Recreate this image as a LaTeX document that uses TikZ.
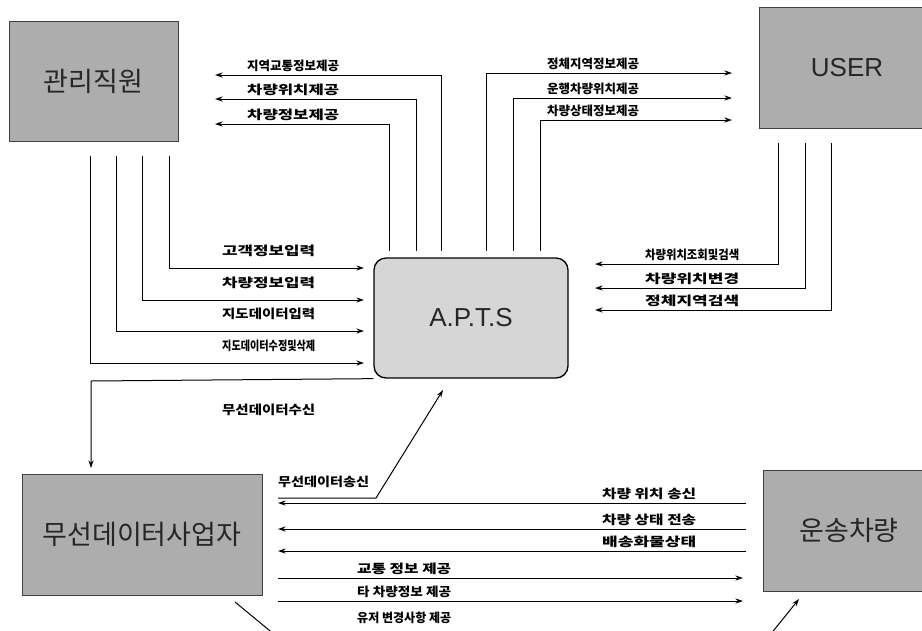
\documentclass[tikz,border=0pt]{standalone}
\usepackage{fontspec}
\usepackage{graphicx}
\usetikzlibrary{arrows.meta}
\newfontfamily\kr{Noto Sans CJK KR}
\newfontfamily\lat{Liberation Sans}
\newcommand\entfont{\kr\fontsize{27}{27}\selectfont}
\newcommand\sysfont{\lat\fontsize{26}{26}\selectfont}
\newcommand\flowtxt[2]{\resizebox{#1pt}{10.5pt}{\kr\bfseries #2}}
\begin{document}
\begin{tikzpicture}[
 x=1pt,y=-1pt,
 entity/.style={draw=black!75,fill=black!32,line width=.8pt,inner sep=0pt,text=black!85,font=\entfont},
 system/.style={draw,fill=black!16,rounded corners=12pt,line width=1.3pt,inner sep=0pt,text=black!85,font=\sysfont},
 flow/.style={line width=1pt},
 arr/.style={flow,-{Stealth[length=7.5pt,width=5pt]}},
 lab/.style={inner sep=0pt,anchor=south west}]
 \useasboundingbox (0,0) rectangle (922,630);
 \fill[white] (0,0) rectangle (922,630);
 % entities and the system
 \node[entity,minimum width=169pt,minimum height=120pt] (staff) at (93.5,81) {관리직원};
 \node[entity,minimum width=176pt,minimum height=121pt,font=\sysfont] (user) at (847,67.5) {USER};
 \node[system,minimum width=194pt,minimum height=120pt] (apts) at (471,318) {A.P.T.S};
 \node[entity,minimum width=240pt,minimum height=121pt] (wireless) at (142,534.5) {무선데이터사업자};
 \node[entity,minimum width=172pt,minimum height=121pt] (truck) at (849,530.5) {운송차량};
 % system to staff
 \foreach \i/\vx/\hy/\lab in {1/441/75/지역교통정보제공,2/416/99/차량위치제공,3/389/124/차량정보제공}{
  \coordinate (ta\i) at (\vx,251);
  \coordinate (tb\i) at (\vx,\hy);
  \coordinate (tc\i) at (215,\hy);
  \draw[arr] (ta\i)--(tb\i)--(tc\i);
  \node[lab] (tl\i) at (247,\hy-3) {\flowtxt{92}{\lab}};
 }
 % system to user
 \foreach \i/\vx/\hy/\lab in {1/486/73/정체지역정보제공,2/513/98/운행차량위치제공,3/540/120/차량상태정보제공}{
  \coordinate (ua\i) at (\vx,251);
  \coordinate (ub\i) at (\vx,\hy);
  \coordinate (uc\i) at (732,\hy);
  \draw[arr] (ua\i)--(ub\i)--(uc\i);
  \node[lab] (ul\i) at (547,\hy-3) {\flowtxt{92}{\lab}};
 }
 % staff to system
 \foreach \i/\vx/\hy/\lab in {1/169/268/고객정보입력,2/142/300/차량정보입력,3/116/331/지도데이터입력,4/90/363/지도데이터수정및삭제}{
  \coordinate (sa\i) at (\vx,156);
  \coordinate (sb\i) at (\vx,\hy);
  \coordinate (sc\i) at (364,\hy);
  \draw[arr] (sa\i)--(sb\i)--(sc\i);
  \node[lab] (sl\i) at (222,\hy-11) {\flowtxt{93}{\lab}};
 }
 % user to system
 \foreach \i/\vx/\hy/\lab in {1/778/264/차량위치조회및검색,2/805/288/차량위치변경,3/831/310/정체지역검색}{
  \coordinate (qa\i) at (\vx,143);
  \coordinate (qb\i) at (\vx,\hy);
  \coordinate (qc\i) at (595,\hy);
  \draw[arr] (qa\i)--(qb\i)--(qc\i);
  \node[lab] (ql\i) at (645,\hy-3) {\flowtxt{94}{\lab}};
 }
 % wireless link
 \coordinate (rb) at (91,381); \coordinate (rc) at (91,468);
 \draw[arr] (apts.south west)--(rb)--(rc);
 \node[lab] (rl) at (222,416) {\flowtxt{93}{무선데이터수신}};
 \coordinate (wa) at (278,498); \coordinate (wb) at (376,498); \coordinate (wc) at (443,390);
 \draw[arr] (wa)--(wb)--(wc);
 \node[lab] (wl) at (278,488) {\flowtxt{91}{무선데이터송신}};
 % vehicle to wireless
 \foreach \i/\hy/\lab in {1/503/차량 위치 송신,2/529/차량 상태 전송,3/551/배송화물상태}{
  \coordinate (va\i) at (746,\hy);
  \coordinate (vb\i) at (278,\hy);
  \draw[arr] (va\i)--(vb\i);
  \node[lab] (vl\i) at (602,\hy-3) {\flowtxt{94}{\lab}};
 }
 % wireless to vehicle
 \foreach \i/\hy/\lab in {1/578/교통 정보 제공,2/601/타 차량정보 제공}{
  \coordinate (xa\i) at (278,\hy);
  \coordinate (xb\i) at (743,\hy);
  \draw[arr] (xa\i)--(xb\i);
  \node[lab] (xl\i) at (357,\hy-3) {\flowtxt{94}{\lab}};
 }
 \node[lab] (xl3) at (357,624) {\flowtxt{94}{유저 변경사항 제공}};
 % links leaving the frame
 \coordinate (da) at (235,602); \coordinate (db) at (275,635);
 \draw[flow] (da)--(db);
 \coordinate (ea) at (770,635); \coordinate (eb) at (799,599);
 \draw[arr] (ea)--(eb);
\end{tikzpicture}
\end{document}
